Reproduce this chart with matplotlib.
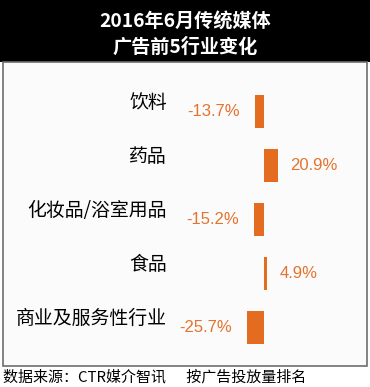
import matplotlib
matplotlib.use("Agg")
import matplotlib.pyplot as plt
from matplotlib.patches import Rectangle

plt.rcParams['font.family'] = ['Noto Sans CJK SC', 'DejaVu Sans']

# data
categories = ['饮料', '药品', '化妆品/浴室用品', '食品', '商业及服务性行业']
changes = [-13.7, 20.9, -15.2, 4.9, -25.7]
value_labels = ['-13.7%', '20.9%', '-15.2%', '4.9%', '-25.7%']

title_lines = ['2016年6月传统媒体', '广告前5行业变化']
footer = '数据来源：CTR媒介智讯      按广告投放量排名'

bar_color = '#E46C21'
label_color = '#E5732E'

W, H = 370, 387
fig = plt.figure(figsize=(W / 100, H / 100), dpi=100)
fig.patch.set_facecolor('white')

# black title band and grey-framed panel (behind the axes)
fig.add_artist(Rectangle((0, 1 - 62 / H), 1, 62 / H, transform=fig.transFigure,
                         facecolor='black', edgecolor='none', zorder=-2))
fig.add_artist(Rectangle((3 / W, 1 - 366 / H), 364 / W, 304 / H, transform=fig.transFigure,
                         facecolor='#fbfbfb', edgecolor='#6e6e6e', linewidth=1.2, zorder=-2))
for ypx, line in zip([22, 47], title_lines):
    fig.text(0.5, 1 - ypx / H, line, color='white', fontsize=13.8, fontweight='bold',
             ha='center', va='center')

ax = fig.add_axes([0, 33 / H, 1, 269 / H])
ax.set_facecolor('none')
zero_px, px_per_pct = 264, 0.67
ax.set_xlim(-zero_px / px_per_pct, (W - zero_px) / px_per_pct)
ax.set_ylim(len(categories) - 0.5, -0.5)
ax.axis('off')

ys = range(len(categories))
ax.barh(ys, changes, height=0.61, color=bar_color)

for y, cat, v, lab in zip(ys, categories, changes, value_labels):
    ax.text(-(264 - 167) / px_per_pct, y - 0.17, cat, ha='right', va='center',
            fontsize=13.6, color='black')
    if v < 0:
        ax.annotate(lab, (v, y), xytext=(-11, 0), textcoords='offset points',
                    ha='right', va='center', fontsize=12, color=label_color,
                    family=['Liberation Sans', 'DejaVu Sans'])
    else:
        ax.annotate(lab, (v, y), xytext=(9, 0), textcoords='offset points',
                    ha='left', va='center', fontsize=12, color=label_color,
                    family=['Liberation Sans', 'DejaVu Sans'])

fig.text(3 / W, 1 - 377 / H, footer, ha='left', va='center', fontsize=10.8, color='black')

fig.savefig('out.png', dpi=100)
